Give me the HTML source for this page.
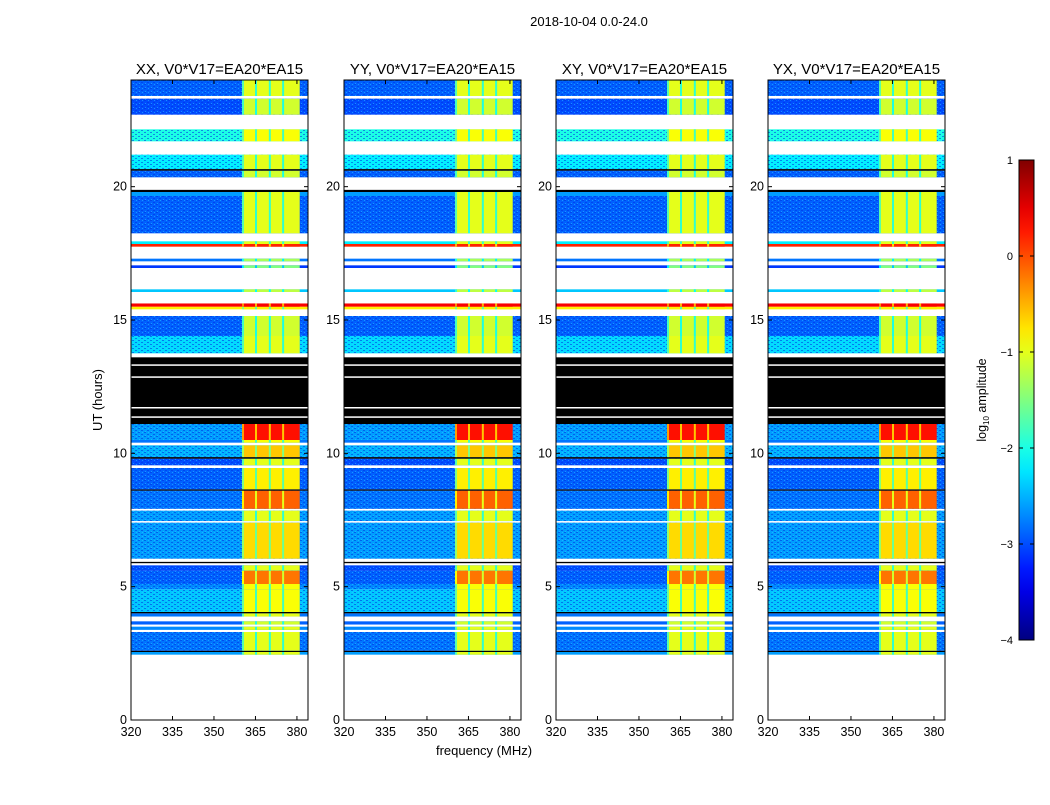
<!DOCTYPE html>
<html><head><meta charset="utf-8">
<style>
html,body{margin:0;padding:0;background:#fff;}
body{width:1050px;height:800px;overflow:hidden;font-family:"Liberation Sans",sans-serif;}
svg text{font-family:"Liberation Sans",sans-serif;}
</style></head>
<body>
<svg id="chart" width="1050" height="800" xmlns="http://www.w3.org/2000/svg">
<defs>
<pattern id="speck" width="6" height="4" patternUnits="userSpaceOnUse">
<rect x="0" y="0" width="2" height="1" fill="#0030e0" opacity="0.55"/>
<rect x="3" y="2" width="2" height="1" fill="#0030e0" opacity="0.55"/>
<rect x="4" y="0" width="1" height="1" fill="#30d0ff" opacity="0.5"/>
<rect x="1" y="3" width="1" height="1" fill="#30d0ff" opacity="0.5"/>
</pattern>
</defs>
<text x="589" y="26" font-size="13" text-anchor="middle">2018-10-04 0.0-24.0</text>
<text x="484" y="755" font-size="13" text-anchor="middle">frequency (MHz)</text>
<text transform="translate(102,400) rotate(-90)" font-size="13" text-anchor="middle">UT (hours)</text>
<g id="panels"></g>
<g id="cbar"></g>
</svg>
<script>
// Data
const panelTitles = ["XX, V0*V17=EA20*EA15","YY, V0*V17=EA20*EA15","XY, V0*V17=EA20*EA15","YX, V0*V17=EA20*EA15"];
const panelLefts = [131,344,556,768];
const xTicks = [320,335,350,365,380];
const yTicks = [0,5,10,15,20];
const cbTicks = [1,0,-1,-2,-3,-4];
const cbTickLabels = ["1","0","\u22121","\u22122","\u22123","\u22124"];
// time segments: start hour, end hour, background log amp (NaN=gap, -99=flagged black), band log amp
const segStart = [2.45,2.55,2.6,3.3,3.38,3.5,3.58,3.7,3.88,4.0,4.05,4.9,5.1,5.6,5.8,5.88,5.93,6.05,7.4,7.46,7.85,7.92,8.6,8.65,9.45,9.55,9.8,9.86,10.3,10.4,10.5,11.1,13.6,13.75,14.4,15.15,15.4,15.5,15.62,16.05,16.15,16.95,17.05,17.2,17.3,17.75,17.85,17.95,18.25,19.65,19.8,19.88,20.35,20.6,20.66,21.2,21.7,22.15,22.7,23.3,23.4];
const segEnd   = [2.55,2.6,3.3,3.38,3.5,3.58,3.7,3.88,4.0,4.05,4.9,5.1,5.6,5.8,5.88,5.93,6.05,7.4,7.46,7.85,7.92,8.6,8.65,9.45,9.55,9.8,9.86,10.3,10.4,10.5,11.1,13.6,13.75,14.4,15.15,15.4,15.5,15.62,16.05,16.15,16.95,17.05,17.2,17.3,17.75,17.85,17.95,18.25,19.65,19.8,19.88,20.35,20.6,20.66,21.2,21.7,22.15,22.7,23.3,23.4,24.0];
const segBg    = [-2.6,-99,-2.8,NaN,-2.7,NaN,-2.9,NaN,-2.8,-99,-2.4,-2.7,-2.9,-3.0,NaN,-99,NaN,-2.6,NaN,-2.6,NaN,-2.8,-99,-2.9,NaN,-3.0,-99,-2.5,NaN,-2.8,-2.6,-99,NaN,-2.3,-2.9,NaN,-0.8,0.4,NaN,-2.4,NaN,-3.1,NaN,-2.8,NaN,0.2,-2.2,NaN,-2.9,-2.6,-99,NaN,-2.9,-99,-2.2,NaN,-2.0,NaN,-3.0,NaN,-2.9];
const segBand  = [-1.0,-99,-1.0,NaN,-1.0,NaN,-1.1,NaN,-1.0,-99,-0.9,-0.9,-0.2,-1.0,NaN,-99,NaN,-0.7,NaN,-1.0,NaN,-0.1,-99,-0.8,NaN,-1.0,-99,-0.6,NaN,-0.9,0.3,-99,NaN,-1.0,-1.1,NaN,-0.8,0.4,NaN,-1.2,NaN,-1.5,NaN,-1.3,NaN,0.2,-1.0,NaN,-1.0,-1.0,-99,NaN,-1.1,-99,-1.0,NaN,-0.9,NaN,-1.1,NaN,-1.0];
const gapLinesInFlag = [11.35,11.7,12.85,13.3];
const bandStart = 360.5, bandEnd = 381.0;
const bandNotches = [365.2,370.2,375.0];

const NS="http://www.w3.org/2000/svg";
const PW=177, TOP=80, BOT=720, XMIN=320, XMAX=384, YMAX=24;
function jet(v){
  let t=Math.max(0,Math.min(1,(v+4)/5));
  const c=x=>Math.round(255*Math.max(0,Math.min(1,x)));
  return `rgb(${c(1.5-Math.abs(4*t-3))},${c(1.5-Math.abs(4*t-2))},${c(1.5-Math.abs(4*t-1))})`;
}
function colorFor(v){ if(isNaN(v)) return null; if(v<=-90) return "#000"; return jet(v); }
function mk(tag,attrs,parent){const e=document.createElementNS(NS,tag);for(const k in attrs)e.setAttribute(k,attrs[k]);parent.appendChild(e);return e;}
const yS=h=>BOT-(h/YMAX)*(BOT-TOP);
const panels=document.getElementById('panels');
panelLefts.forEach((L,pi)=>{
  const xS=f=>L+(f-XMIN)/(XMAX-XMIN)*PW;
  const g=mk('g',{},panels);
  
  
  for(let i=0;i<segStart.length;i++){
    const y0=yS(segEnd[i]), y1=yS(segStart[i]);
    const bg=colorFor(segBg[i]);
    if(bg){
      const r=mk('rect',{x:L,y:y0,width:PW,height:y1-y0,fill:bg},g);
      
      
      if(segBg[i]>-90 && segBg[i]<-1.5 && y1-y0>4){
        const s=mk('rect',{x:L,y:y0,width:PW,height:y1-y0,fill:"url(#speck)"},g);
        
        
      }
    }
    const bc=colorFor(segBand[i]);
    if(bc && segBand[i]>-90){
      const b=mk('rect',{x:xS(bandStart),y:y0,width:xS(bandEnd)-xS(bandStart),height:y1-y0,fill:bc},g);
      
      
      bandNotches.forEach(f=>{
        const n=mk('rect',{x:xS(f)-1,y:y0,width:2,height:y1-y0,fill:jet(segBand[i]-0.9)},g);
        
        
      });
      const e=mk('rect',{x:xS(bandStart)-1,y:y0,width:2,height:y1-y0,fill:jet(segBand[i]-0.7)},g);
      
      
    }
  }
  gapLinesInFlag.forEach(h=>{
    const w=mk('rect',{x:L,y:yS(h)-1,width:PW,height:1.5,fill:"#fff"},g);
    
    
  });
  const fr=mk('rect',{x:L,y:TOP,width:PW,height:BOT-TOP,fill:"none",stroke:"#000","stroke-width":1},g);
  
  
  const t=mk('text',{x:L+PW/2,y:74,"font-size":15,"text-anchor":"middle"},g);
  t.textContent=panelTitles[pi];
  
  
  xTicks.forEach(v=>{
    const x=xS(v);
    mk('line',{x1:x,x2:x,y1:BOT,y2:BOT-4,stroke:"#000"},g);
    mk('line',{x1:x,x2:x,y1:TOP,y2:TOP+4,stroke:"#000"},g);
    const tl=mk('text',{x:x,y:BOT+16,"font-size":12.5,"text-anchor":"middle"},g);
    tl.textContent=v;
    
    
  });
  yTicks.forEach(v=>{
    const y=yS(v);
    mk('line',{x1:L,x2:L+4,y1:y,y2:y,stroke:"#000"},g);
    mk('line',{x1:L+PW,x2:L+PW-4,y1:y,y2:y,stroke:"#000"},g);
    const tl=mk('text',{x:L-4,y:y+4,"font-size":12.5,"text-anchor":"end"},g);
    tl.textContent=v;
    
    
  });
});
// colorbar
const cb=document.getElementById('cbar');
const CX=1019,CW=15,CT=160,CB=640;
const defs=mk('defs',{},cb);
const grad=mk('linearGradient',{id:'jetg',x1:0,y1:1,x2:0,y2:0},defs);
for(let i=0;i<=20;i++){mk('stop',{offset:i/20,'stop-color':jet(-4+5*i/20)},grad);}
const cr=mk('rect',{x:CX,y:CT,width:CW,height:CB-CT,fill:"url(#jetg)",stroke:"#000"},cb);


cbTicks.forEach((v,i)=>{
  const y=CB-(v+4)/5*(CB-CT);
  mk('line',{x1:CX,x2:CX+4,y1:y,y2:y,stroke:"#000"},cb);
  mk('line',{x1:CX+CW,x2:CX+CW-4,y1:y,y2:y,stroke:"#000"},cb);
  const tl=mk('text',{x:1013,y:y+4,"font-size":11,"text-anchor":"end"},cb);
  tl.textContent=cbTickLabels[i];
  
  
});
const cl=mk('text',{transform:"translate(986,400) rotate(-90)","font-size":12.5,"text-anchor":"middle"},cb);
cl.innerHTML='log<tspan font-size="8" dy="3">10</tspan><tspan dy="-3"> amplitude</tspan>';


</script>
</body></html>
